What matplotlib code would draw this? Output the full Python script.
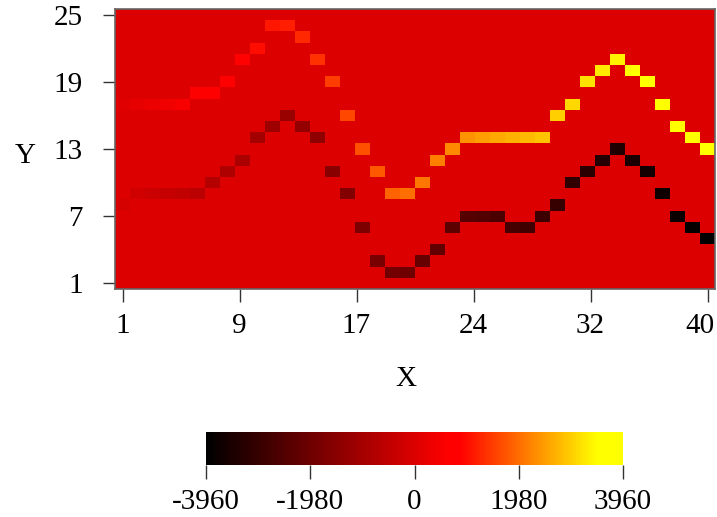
import matplotlib
matplotlib.use('Agg')
import matplotlib.pyplot as plt
import matplotlib.transforms as mtransforms
import numpy as np
from matplotlib.colors import LinearSegmentedColormap

plt.rcParams['font.family'] = ['Liberation Serif', 'DejaVu Serif']
plt.rcParams['axes.unicode_minus'] = False

# grid size
nx, ny = 40, 25

# columns and the row that each of the two tracks sits on
cols = list(range(1, 41))
upper_row = [17, 17, 17, 17, 17, 18, 18, 19, 21, 22, 24, 24, 23, 21, 19, 16, 13, 11, 9, 9,
             10, 12, 13, 14, 14, 14, 14, 14, 14, 16, 17, 19, 20, 21, 20, 19, 17, 15, 14, 13]
lower_row = [8, 9, 9, 9, 9, 9, 10, 11, 12, 14, 15, 16, 15, 14, 11, 9, 6, 3, 2, 2,
             3, 4, 6, 7, 7, 7, 6, 6, 7, 8, 10, 11, 12, 13, 12, 11, 9, 7, 6, 5]

# cell values along each track
upper_val = [99, 198, 297, 396, 495, 594, 693, 792, 891, 990, 1089, 1188, 1287, 1386,
             1485, 1584, 1683, 1782, 1881, 1980, 2079, 2178, 2277, 2376, 2475, 2574,
             2673, 2772, 2871, 2970, 3069, 3168, 3267, 3366, 3465, 3564, 3663, 3762,
             3861, 3960]
lower_val = [-99, -198, -297, -396, -495, -594, -693, -792, -891, -990, -1089, -1188,
             -1287, -1386, -1485, -1584, -1683, -1782, -1881, -1980, -2079, -2178,
             -2277, -2376, -2475, -2574, -2673, -2772, -2871, -2970, -3069, -3168,
             -3267, -3366, -3465, -3564, -3663, -3762, -3861, -3960]

xtick_labels = ['1', '9', '17', '24', '32', '40']
ytick_labels = ['1', '7', '13', '19', '25']
cbar_ticks = [-3960, -1980, 0, 1980, 3960]

Z = np.zeros((ny, nx))
for c, r, v in zip(cols, upper_row, upper_val):
    Z[r - 1, c - 1] = v
for c, r, v in zip(cols, lower_row, lower_val):
    Z[r - 1, c - 1] = v

cmap = LinearSegmentedColormap.from_list('heatish', [
    (0.0, (0, 0, 0)),
    (0.58, (1, 0, 0)),
    (0.61, (1, 0, 0)),
    (0.94, (1, 1, 0)),
    (1.0, (1, 1, 0)),
])

fs = 21
W, H = 717, 517
fig = plt.figure(figsize=(W / 100, H / 100), dpi=100)
ax = fig.add_axes([115 / W, 1 - 289 / H, 600 / W, 280 / H])
im = ax.imshow(Z, cmap=cmap, vmin=-3960, vmax=3960, origin='lower', aspect='auto',
               interpolation='nearest', extent=(0.5, 40.5, 0.5, 25.5))

ax.set_xticks(np.linspace(1, 40, 6))
ax.set_xticklabels(xtick_labels)
ax.set_yticks(np.linspace(1, 25, 5))
ax.set_yticklabels(ytick_labels)
ax.tick_params(axis='both', labelsize=fs, length=9, width=1, color='#333333', direction='out')
ax.tick_params(axis='x', pad=8)
ax.tick_params(axis='y', pad=14)
for s in ax.spines.values():
    s.set_color('#666666')
    s.set_linewidth(1.2)

# keep the last x label inside the figure
last = ax.get_xticklabels()[-1]
last.set_ha('right')
last.set_transform(last.get_transform() + mtransforms.ScaledTranslation(7 / 100, 0, fig.dpi_scale_trans))

fig.text(406 / W, 1 - 379 / H, 'X', ha='center', va='center', fontsize=fs)
fig.text(25 / W, 1 - 156 / H, 'Y', ha='center', va='center', fontsize=fs)

cax = fig.add_axes([206 / W, 1 - 465 / H, 417 / W, 33 / H])
cb = fig.colorbar(im, cax=cax, orientation='horizontal', ticks=cbar_ticks)
cb.outline.set_visible(False)
cb.ax.tick_params(labelsize=fs, length=10, width=1, color='#333333', pad=7)
cb.ax.set_xticklabels([str(t) for t in cbar_ticks])

fig.savefig('out.png', dpi=100)
